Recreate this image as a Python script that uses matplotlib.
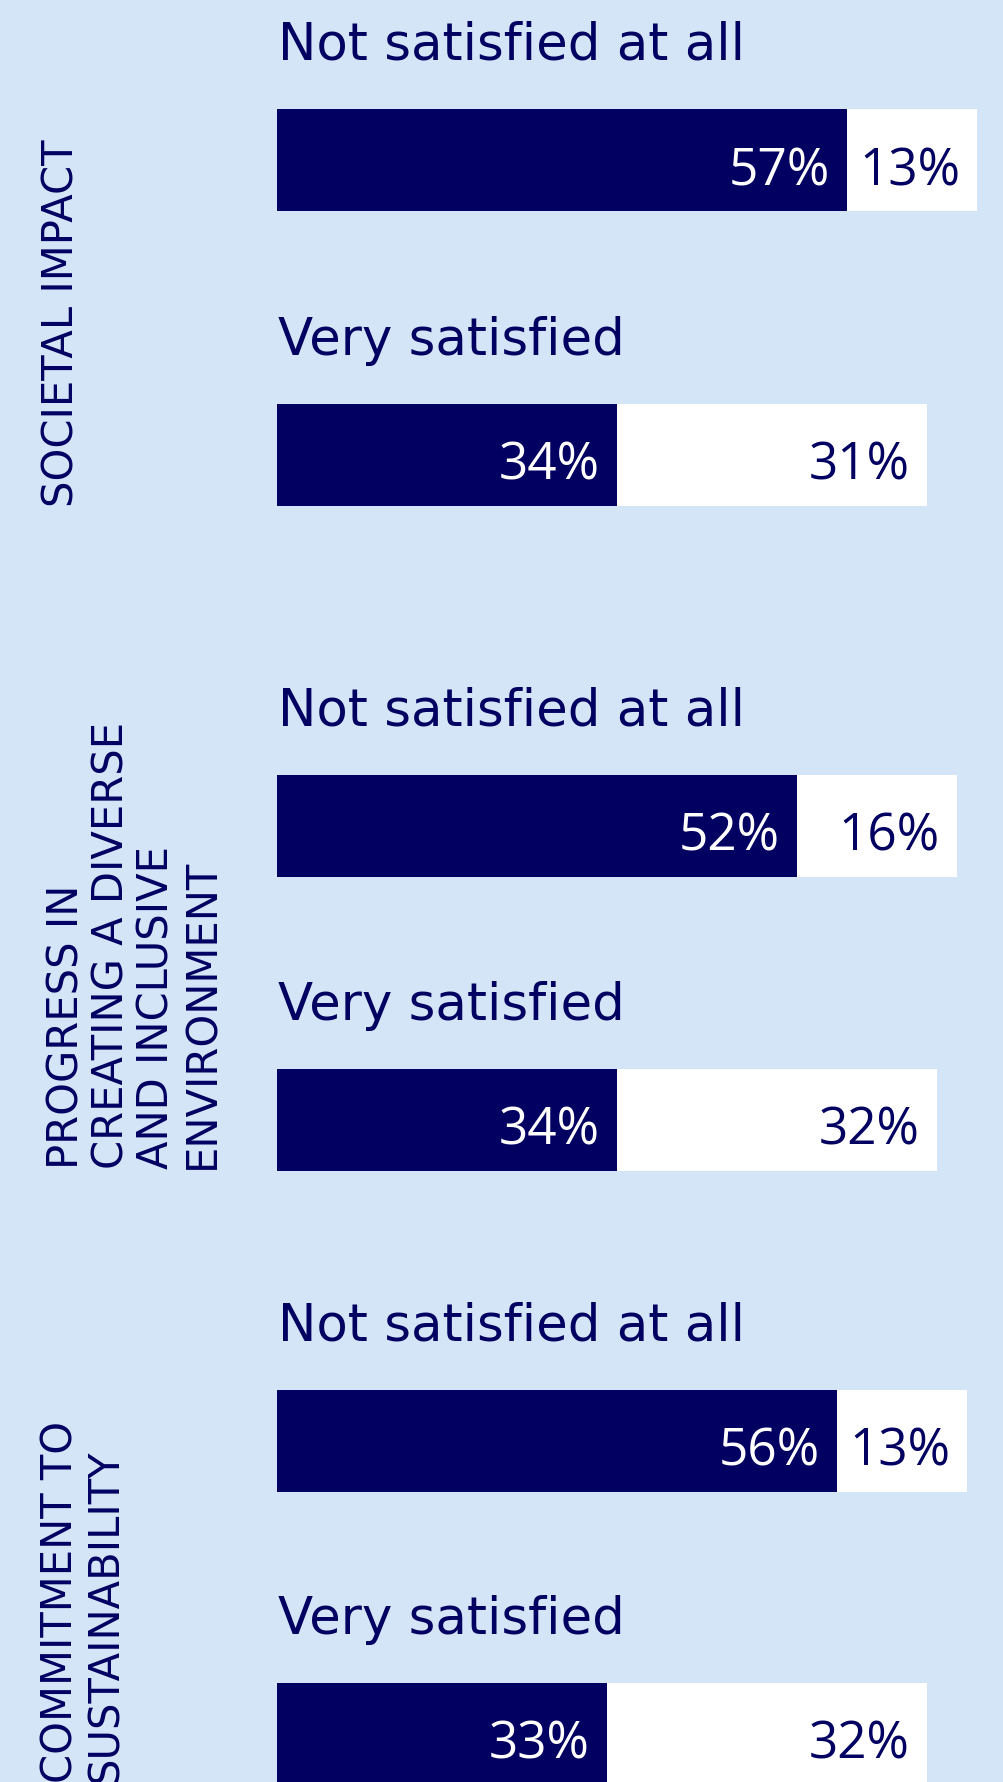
"""Satisfaction bars: share not satisfied / very satisfied per topic."""
import matplotlib
matplotlib.use("Agg")
import matplotlib.pyplot as plt

# =============================================================================
# DATA
# =============================================================================
topics = ["SOCIETAL IMPACT",
          "PROGRESS IN\nCREATING A DIVERSE\nAND INCLUSIVE\nENVIRONMENT",
          "COMMITMENT TO\nSUSTAINABILITY"]
rows = ["Not satisfied at all", "Very satisfied"]
dark_pct = [[57, 34], [52, 34], [56, 33]]     # navy part of bar
light_pct = [[13, 31], [16, 32], [13, 32]]    # white part of bar

# =============================================================================
# LAYOUT (pixel units, y grows downward)
# =============================================================================
W, H = 1004, 1783
bar_top = [[110, 405], [776, 1070], [1391, 1684]]
bar_h = 102
label_x = [62, 134, 83]
label_bottom = [507, 1169, 1783]

NAVY = "#020061"
BG = "#D4E5F7"

fig = plt.figure(figsize=(W / 100, H / 100), dpi=100, facecolor=BG)
ax = fig.add_axes([0, 0, 1, 1])
ax.set_facecolor(BG)
x0 = 277            # pixel where 0% sits
px_per_pct = 10.0
ax.set_xlim(-x0 / px_per_pct, (W - x0) / px_per_pct)
ax.set_ylim(H, 0)
ax.axis("off")

pad = 1.7           # gap between value label and bar end, in %

for g in range(len(topics)):
    for r in range(len(rows)):
        top = bar_top[g][r]
        yc = top + bar_h / 2
        d, l = dark_pct[g][r], light_pct[g][r]
        ax.barh(yc, d, height=bar_h, left=0, color=NAVY, edgecolor="none")
        ax.barh(yc, l, height=bar_h, left=d, color="white", edgecolor="none")
        ax.text(0.1, top - 50, rows[r], fontsize=37, color=NAVY,
                family="DejaVu Sans", ha="left", va="baseline")
        ax.text(d - pad, yc + 24, f"{d}%", fontsize=37, color="white",
                family="Open Sans", ha="right", va="baseline")
        ax.text(d + l - pad, yc + 24, f"{l}%", fontsize=37, color=NAVY,
                family="Open Sans", ha="right", va="baseline")
    ax.text((label_x[g] - x0) / px_per_pct, label_bottom[g], topics[g],
            rotation=90, fontsize=30, color=NAVY, family="DejaVu Sans",
            ha="center", va="bottom", multialignment="left", linespacing=1.1)

fig.savefig("out.png", dpi=100, facecolor=BG)
